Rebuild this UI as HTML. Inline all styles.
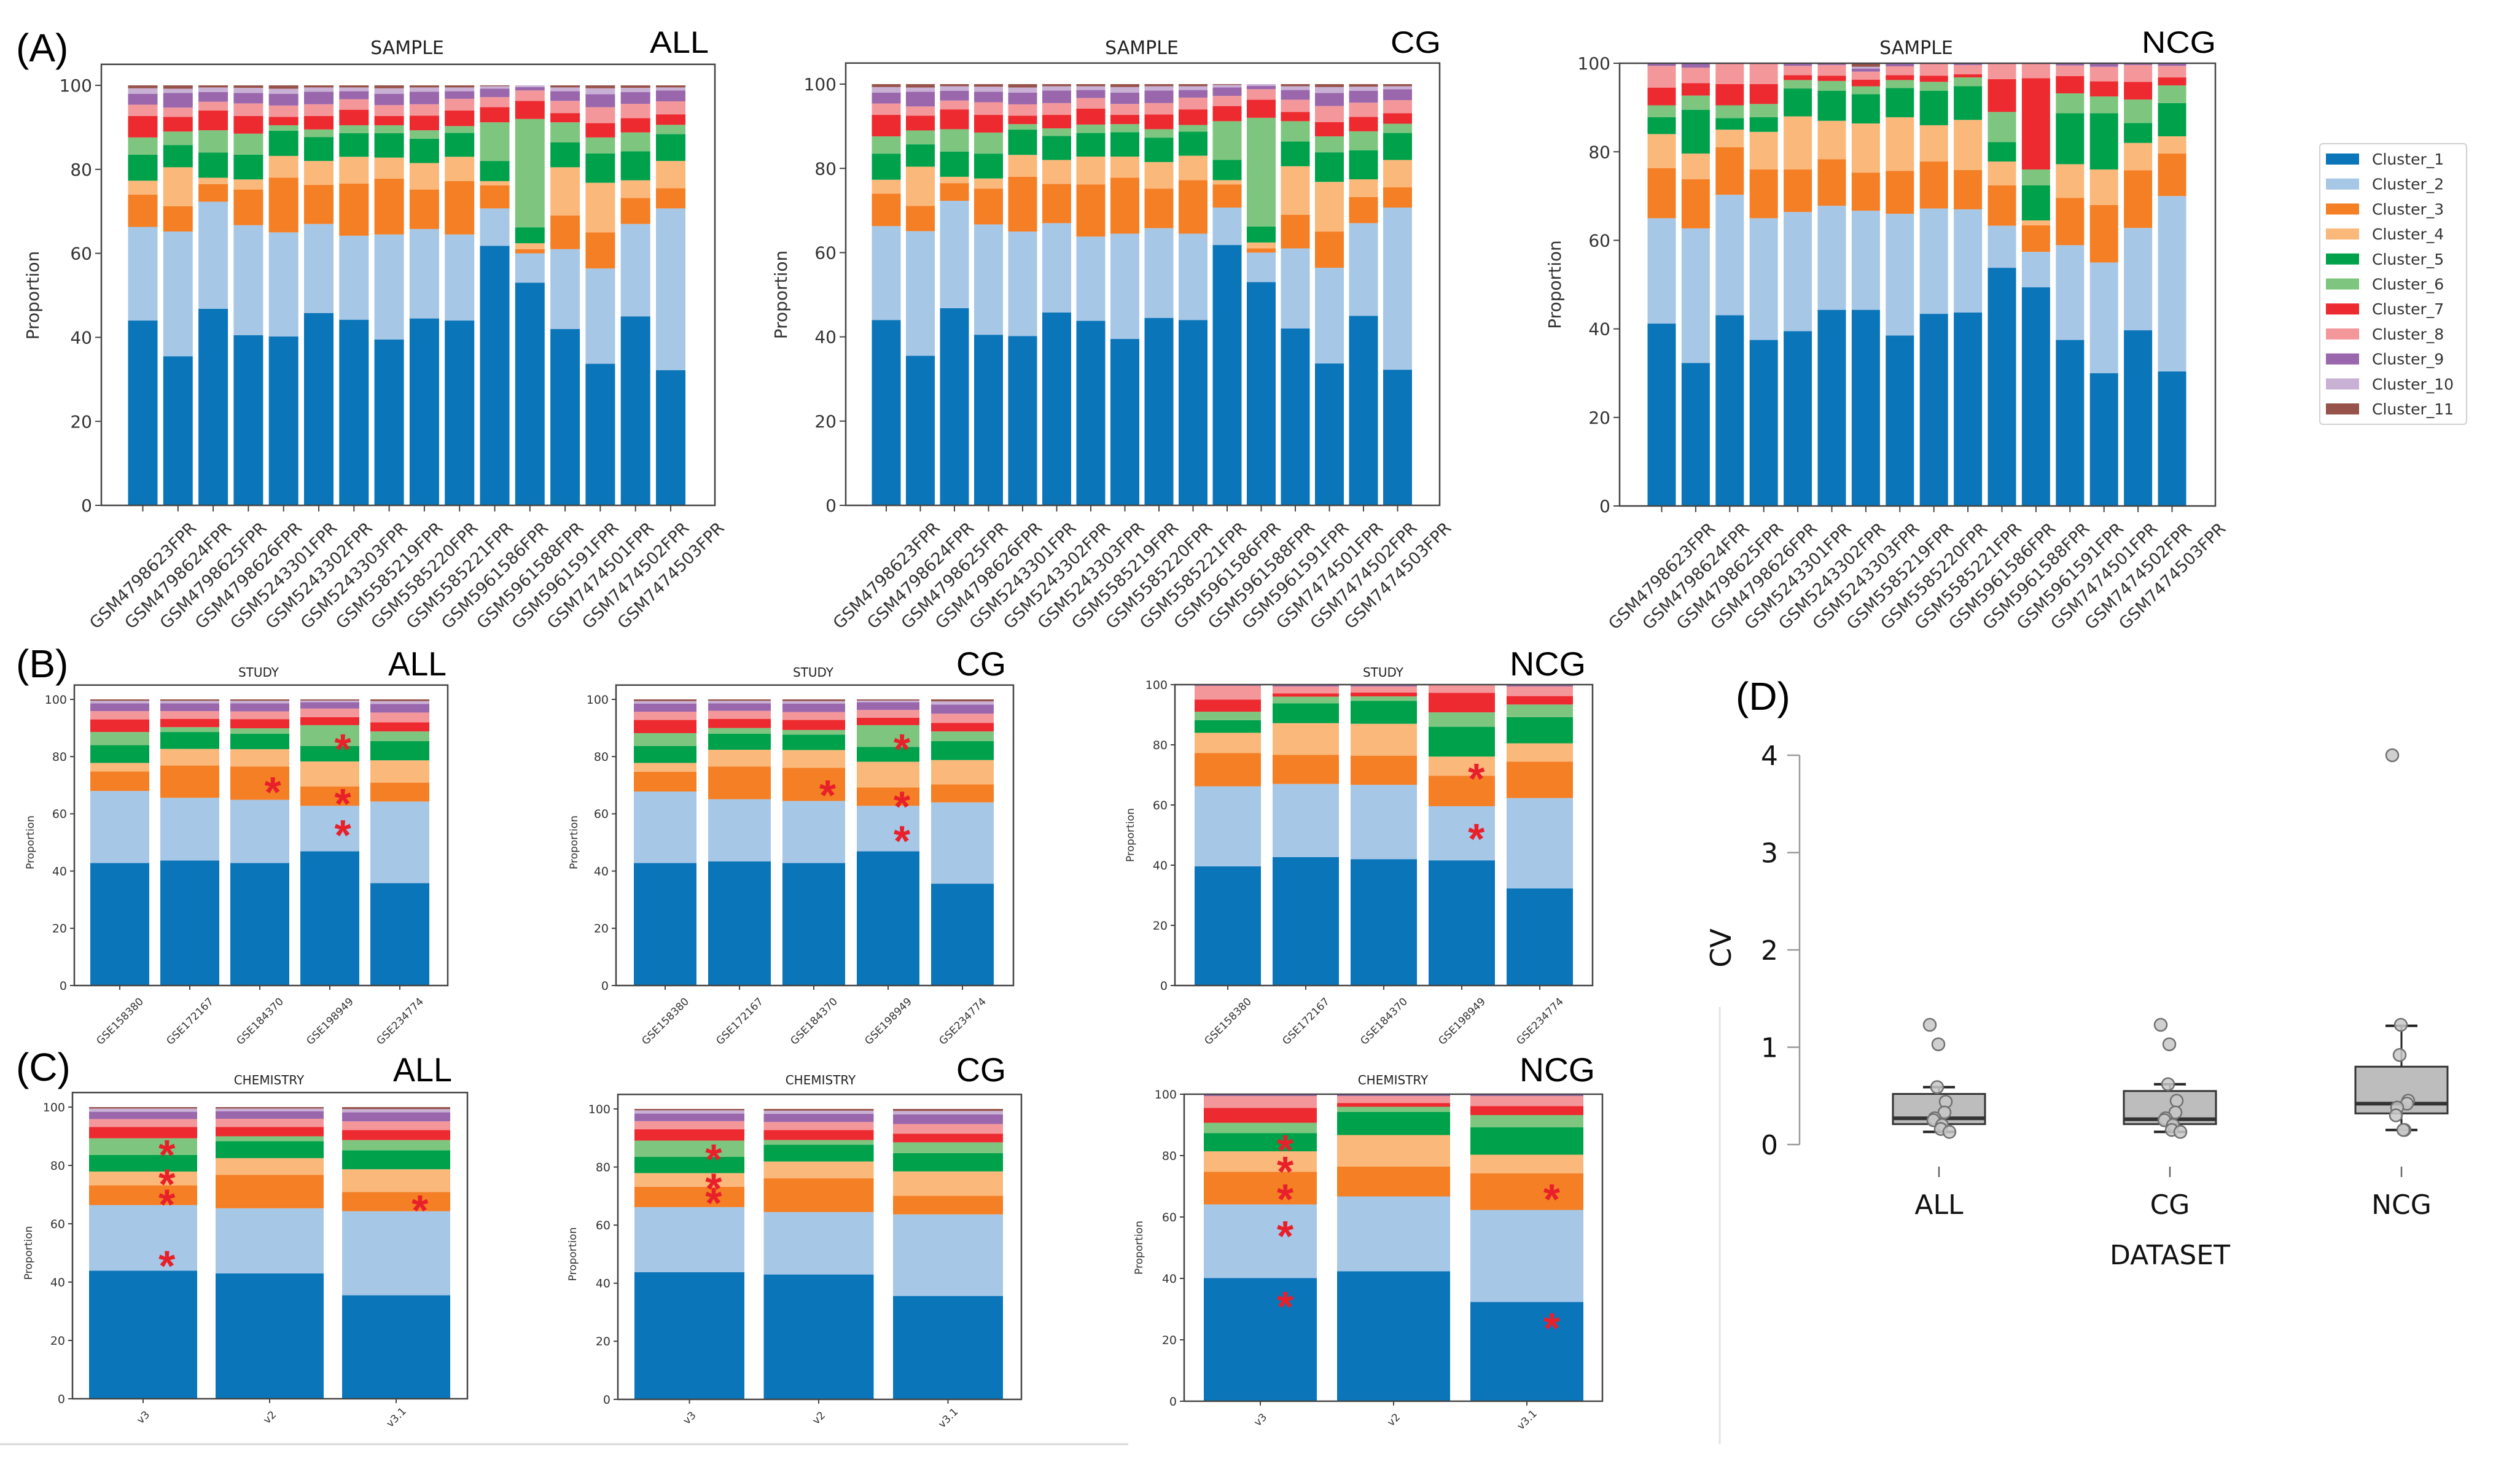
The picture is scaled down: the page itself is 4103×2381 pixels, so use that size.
<!DOCTYPE html>
<html><head><meta charset="utf-8"><style>
html,body{margin:0;padding:0;background:#fff;}
svg{display:block;}
</style></head><body>
<svg id="fig" xmlns="http://www.w3.org/2000/svg" width="4103" height="2381" viewBox="0 0 4103 2381">
<rect x="0" y="0" width="4103" height="2381" fill="#fff"/>
<line x1="0" y1="2352" x2="1837" y2="2352" stroke="#d8d8d8" stroke-width="3"/>
<line x1="2800" y1="1640" x2="2800" y2="2352" stroke="#e4e4e4" stroke-width="3"/>
<g id="legend"></g>
</svg>
<script>
const NS='http://www.w3.org/2000/svg';
const svg=document.getElementById('fig');
const colors=['#0a75b8','#a7c7e7','#f47f25','#fbb87b','#00a14b','#7ec67f','#ed2a2f','#f4979b','#9a67ad','#c9b1d6','#97534a'];
const clusterNames=['Cluster_1','Cluster_2','Cluster_3','Cluster_4','Cluster_5','Cluster_6','Cluster_7','Cluster_8','Cluster_9','Cluster_10','Cluster_11'];

const sampleLabels=['GSM4798623FPR','GSM4798624FPR','GSM4798625FPR','GSM4798626FPR','GSM5243301FPR','GSM5243302FPR','GSM5243303FPR','GSM5585219FPR','GSM5585220FPR','GSM5585221FPR','GSM5961586FPR','GSM5961588FPR','GSM5961591FPR','GSM7474501FPR','GSM7474502FPR','GSM7474503FPR'];
const studyLabels=['GSE158380','GSE172167','GSE184370','GSE198949','GSE234774'];
const chemLabels=['v3','v2','v3.1'];
const yTicks100=[0,20,40,60,80,100];

const sampleAll=[
[44,22.3,7.7,3.3,6.2,4.1,5.1,2.7,2.6,1.3,0.7],
[35.5,29.7,6,9.3,5.3,3.2,3.5,2.2,3.5,1,0.8],
[46.8,25.5,4.2,1.5,6,5.3,4.7,2.1,2.3,1.1,0.5],
[40.5,26.2,8.5,2.4,5.9,5,4.2,3,2.5,1.2,0.6],
[40.2,24.8,13,5.2,6,1.3,2,2.7,2.8,1.2,0.8],
[45.8,21.2,9.3,5.7,5.7,1.8,3.2,2.8,3,1,0.5],
[44.2,20,12.4,6.4,5.6,1.9,3.7,2.5,1.9,0.9,0.5],
[39.5,25,13.3,5,5.8,1.9,2.2,2.6,2.7,1.3,0.7],
[44.5,21.3,9.4,6.3,5.8,2,3.5,2.7,3,1,0.5],
[44,20.5,12.7,5.8,5.7,1.6,3.7,2.8,1.8,0.9,0.5],
[61.8,8.9,5.5,1,4.8,9.2,3.6,2.4,2,0.6,0.2],
[53,7,1,1.4,3.8,25.8,4.3,2.5,0.8,0.4,0],
[42,19,8,11.5,5.9,4.8,2.2,2.9,2.3,0.9,0.5],
[33.7,22.7,8.6,11.8,7,3.8,3.4,3.8,3.1,1.4,0.7],
[45,22,6.2,4.2,6.9,4.5,3.4,3.4,2.8,1,0.6],
[32.2,38.5,4.8,6.5,6.4,2.2,2.5,3.1,2.6,0.7,0.5]];
const sampleCg=[
[44,22.3,7.7,3.3,6.2,4.1,5.1,2.7,2.6,1.3,0.7],
[35.5,29.6,6,9.3,5.3,3.3,3.5,2.2,3.5,1,0.8],
[46.8,25.5,4.2,1.5,6,5.3,4.7,2.1,2.3,1.1,0.5],
[40.5,26.2,8.5,2.4,5.9,5,4.2,3,2.5,1.2,0.6],
[40.2,24.8,13,5.2,6,1.3,2,2.7,2.8,1.2,0.8],
[45.8,21.2,9.3,5.7,5.7,1.8,3.2,2.8,3,1,0.5],
[43.8,20,12.4,6.6,5.6,2,3.8,2.5,1.9,0.9,0.5],
[39.5,25,13.3,5,5.8,1.9,2.2,2.6,2.7,1.3,0.7],
[44.5,21.3,9.4,6.3,5.8,2,3.5,2.7,3,1,0.5],
[44,20.5,12.7,5.8,5.7,1.6,3.7,2.8,1.8,0.9,0.5],
[61.8,8.9,5.5,1,4.8,9.2,3.6,2.4,2,0.6,0.2],
[53,7,1,1.4,3.8,25.8,4.3,2.5,0.8,0.4,0],
[42,19,8,11.5,5.9,4.8,2.2,2.9,2.3,0.9,0.5],
[33.7,22.7,8.6,11.8,7,3.8,3.4,3.8,3.1,1.4,0.7],
[45,22,6.2,4.2,6.9,4.5,3.4,3.4,2.8,1,0.6],
[32.2,38.5,4.8,6.5,6.4,2.2,2.5,3.1,2.6,0.7,0.5]];
const sampleNcg=[
[41.2,23.8,11.3,7.7,3.8,2.7,4,4.9,0.6,0,0],
[32.3,30.4,11.1,5.8,9.9,3.2,2.8,3.5,1,0,0],
[43.1,27.2,10.7,4,2.6,2.9,4.8,4.7,0,0,0],
[37.5,27.5,11,8.5,3.3,3,4.5,4.7,0,0,0],
[39.5,26.9,9.6,12,6.3,1.9,1.1,2.1,0.6,0,0],
[44.3,23.5,10.5,8.7,6.8,2.2,1.2,2.4,0.4,0,0],
[44.3,22.4,8.6,11.1,6.6,1.8,1.5,1.8,0.7,0.4,0.8],
[38.5,27.5,9.7,12.1,6.6,1.8,1.1,2,0.7,0,0],
[43.4,23.8,10.6,8.2,7.8,2,1.4,2.8,0,0,0],
[43.7,23.3,8.9,11.3,7.6,2,0.7,2.1,0.4,0,0],
[53.8,9.5,9.1,5.4,4.4,6.8,7.4,3.6,0,0,0],
[49.4,8,6,1.1,7.9,3.6,20.6,3.4,0,0,0],
[37.5,21.4,10.7,7.6,11.5,4.5,3.9,2.4,0.5,0,0],
[30,25,13,8,12.7,3.8,3.4,3.3,0.8,0,0],
[39.7,23.1,13,6.2,4.5,5.3,4,3.8,0.4,0,0],
[30.4,39.6,9.6,3.9,7.5,4,1.8,2.6,0.6,0,0]];

const studyAll=[
[42.8,25.2,6.8,3,6.2,4.6,4.4,2.9,2.7,0.9,0.5],
[43.7,21.9,11.3,5.8,5.9,1.7,2.9,2.7,2.7,0.9,0.5],
[42.8,22.1,11.6,6.1,5.4,1.9,3.2,2.7,2.8,0.9,0.5],
[46.9,15.9,6.8,8.7,5.4,7.3,2.8,3,2.2,0.6,0.4],
[35.8,28.5,6.6,7.8,6.7,3.4,3.2,3.4,3,1,0.6]];
const studyCg=[
[42.8,25,6.9,3.1,5.9,4.5,4.6,2.9,2.8,0.9,0.6],
[43.4,21.7,11.4,5.9,5.6,2,3.2,2.8,2.6,0.9,0.5],
[42.8,21.7,11.6,6.2,5.4,1.6,3.5,2.8,2.9,0.9,0.6],
[46.9,15.9,6.4,9,5.2,7.6,2.6,2.7,2.7,0.6,0.4],
[35.6,28.4,6.3,8.5,6.6,3.4,3,3.2,3.2,1.1,0.7]];
const studyNcg=[
[39.6,26.6,11.1,6.7,4.2,2.8,4,4.6,0.4,0,0],
[42.7,24.3,9.7,10.5,6.6,2.2,1.1,2.3,0.6,0,0],
[42,24.7,9.7,10.6,7.6,1.5,1.3,2,0.6,0,0],
[41.6,18,10.1,6.4,9.9,4.8,6.5,2.7,0,0,0],
[32.3,30,12.1,6.1,8.7,4.2,2.8,3.2,0.6,0,0]];

const chemAll=[
[43.9,22.5,6.8,4.7,5.7,5.7,3.9,2.7,2.5,1.1,0.5],
[43,22.3,11.5,5.7,5.8,1.7,3.2,2.8,2.6,0.9,0.5],
[35.5,28.8,6.6,7.8,6.5,3.5,3.4,3,3.1,1.1,0.7]];
const chemCg=[
[43.8,22.4,7,4.7,5.6,5.6,3.9,2.8,2.6,1.1,0.5],
[43,21.5,11.6,5.8,5.8,1.6,3.4,2.8,2.8,1.1,0.6],
[35.6,28.1,6.4,8.4,6.3,3.7,3,3.3,3.3,1.2,0.7]];
const chemNcg=[
[40.1,24,10.6,6.7,5.9,3.4,4.8,3.9,0.6,0,0],
[42.3,24.4,9.7,10.3,7.5,1.7,1.2,2.3,0.6,0,0],
[32.3,30,11.9,6.1,8.9,4,2.9,3.3,0.6,0,0]];

// asterisks: [barIndex, value]
const starsBAll=[[2,71],[3,86],[3,67],[3,56]];
const starsBCg=[[2,70],[3,86],[3,66],[3,54]];
const starsBNcg=[[3,72],[3,52]];
const starsCAll=[[0,87],[0,77],[0,70],[0,49],[2,68]];
const starsCCg=[[0,86],[0,76],[0,71]];
const starsCNcg=[[0,85],[0,78],[0,69],[0,57],[0,34],[2,69],[2,27]];

// panel D
const cvCats=['ALL','CG','NCG'];
const cvQ1=[0.21,0.21,0.32];
const cvMed=[0.27,0.26,0.42];
const cvQ3=[0.52,0.55,0.80];
const cvLo=[0.13,0.13,0.15];
const cvHi=[0.59,0.62,1.22];
const cvPtsAll=[1.23,1.03,0.59,0.44,0.33,0.27,0.25,0.2,0.16,0.13];
const cvPtsCg=[1.23,1.03,0.62,0.45,0.33,0.27,0.25,0.2,0.15,0.13];
const cvPtsNcg=[4.0,1.23,0.92,0.45,0.42,0.38,0.3,0.15,0.15];
const cvTicks=[0,1,2,3,4];

function el(tag,attrs,parent){const e=document.createElementNS(NS,tag);for(const k in attrs)e.setAttribute(k,attrs[k]);(parent||svg).appendChild(e);return e;}
function txt(s,attrs,parent){const e=el('text',attrs,parent);e.textContent=s;return e;}

function stackChart(o){
  const g=el('g',{});
  
  
  const ymax=o.ymax;
  const y=v=>o.y0-(o.y0-o.y100)*v/100;
  const yTop=y(ymax);
  const n=o.data.length;
  const bx=i=>o.c0+i*o.step;
  // bars
  o.data.forEach((bar,i)=>{
    let acc=0;
    bar.forEach((v,k)=>{
      if(v<=0){return;}
      const r=el('rect',{x:bx(i)-o.w/2,y:y(acc+v),width:o.w,height:y(acc)-y(acc+v),fill:colors[k]},g);
      
      
      acc+=v;
    });
  });
  // frame
  const fr=el('rect',{x:o.x0,y:yTop,width:o.x1-o.x0,height:o.y0-yTop,fill:'none',stroke:'#444','stroke-width':2.5},g);
  
  
  // y ticks
  yTicks100.forEach(t=>{
    el('line',{x1:o.x0-o.tl,x2:o.x0,y1:y(t),y2:y(t),stroke:'#444','stroke-width':2},g);
    const tl=txt(String(t),{x:o.x0-o.tl-5,y:y(t)+o.tf*0.36,'text-anchor':'end','font-family':'DejaVu Sans, Liberation Sans, sans-serif','font-size':o.tf,fill:'#333'},g);
    
    
  });
  // x ticks & labels
  o.labels.forEach((s,i)=>{
    el('line',{x1:bx(i),x2:bx(i),y1:o.y0,y2:o.y0+o.tl,stroke:'#444','stroke-width':2},g);
    const cy=o.y0+o.lOff;
    const t=txt(s,{x:bx(i),y:cy+o.lf*0.35,'text-anchor':'middle','font-family':'DejaVu Sans, Liberation Sans, sans-serif','font-size':o.lf,fill:'#333',transform:`rotate(-45 ${bx(i)} ${cy})`},g);
    
    
  });
  // y label
  const yl=txt('Proportion',{x:o.ylx,y:(o.y0+o.y100)/2,'text-anchor':'middle','font-family':'DejaVu Sans, Liberation Sans, sans-serif','font-size':o.ylf,fill:'#333',transform:`rotate(-90 ${o.ylx} ${(o.y0+o.y100)/2})`},g);
  
  
  // title
  const tt=txt(o.title,{x:o.tx,y:o.ty,'text-anchor':'middle','font-family':'DejaVu Sans, Liberation Sans, sans-serif','font-size':o.ttf,fill:'#222'},g);
  
  
  const dt=txt(o.ds,{x:o.dsx,y:o.dsy,'font-family':'Liberation Sans, sans-serif','font-size':o.dsf,fill:'#000',textLength:o.dsw,lengthAdjust:'spacingAndGlyphs'},g);
  
  
  // stars
  (o.stars||[]).forEach(s=>{
    const sx=bx(s[0])+o.w*0.22, sy=y(s[1]);
    const st=txt('*',{x:sx,y:sy+40,'text-anchor':'middle','font-family':'Liberation Sans, sans-serif','font-weight':'bold','font-size':70,fill:'#e8202a'},g);
    
    
  });
}

// Panel A
stackChart({name:'sample-chart-all',data:sampleAll,labels:sampleLabels,x0:165,x1:1164,y0:823,y100:139,ymax:105,c0:232.5,step:57.3,w:48,tl:10,tf:28,lf:27,lOff:114,ylx:63,ylf:28,title:'SAMPLE',tx:663,ty:88,ttf:30,ds:'ALL',dsx:1058,dsy:86,dsf:50,dsw:96});
stackChart({name:'sample-chart-cg',data:sampleCg,labels:sampleLabels,x0:1377,x1:2344,y0:823,y100:137,ymax:105,c0:1443,step:55.5,w:47,tl:10,tf:28,lf:27,lOff:114,ylx:1281,ylf:28,title:'SAMPLE',tx:1859,ty:88,ttf:30,ds:'CG',dsx:2264,dsy:86,dsf:50,dsw:82});
stackChart({name:'sample-chart-ncg',data:sampleNcg,labels:sampleLabels,x0:2637,x1:3607,y0:824,y100:103,ymax:100,c0:2705.5,step:55.4,w:46,tl:10,tf:28,lf:27,lOff:114,ylx:2541,ylf:28,title:'SAMPLE',tx:3120,ty:88,ttf:30,ds:'NCG',dsx:3487,dsy:86,dsf:50,dsw:121});
// Panel B
stackChart({name:'study-chart-all',data:studyAll,labels:studyLabels,x0:121,x1:729,y0:1605,y100:1139,ymax:105,c0:195,step:114,w:96,tl:7,tf:19,lf:17,lOff:58,ylx:55,ylf:17,title:'STUDY',tx:421,ty:1102,ttf:20,ds:'ALL',dsx:632,dsy:1100,dsf:55,dsw:95,stars:starsBAll});
stackChart({name:'study-chart-cg',data:studyCg,labels:studyLabels,x0:1003,x1:1650,y0:1605,y100:1139,ymax:105,c0:1083,step:121,w:102,tl:7,tf:19,lf:17,lOff:58,ylx:940,ylf:17,title:'STUDY',tx:1324,ty:1102,ttf:20,ds:'CG',dsx:1557,dsy:1100,dsf:55,dsw:81,stars:starsBCg});
stackChart({name:'study-chart-ncg',data:studyNcg,labels:studyLabels,x0:1913,x1:2593,y0:1605,y100:1115,ymax:100,c0:1999,step:127,w:108,tl:7,tf:19,lf:17,lOff:58,ylx:1846,ylf:17,title:'STUDY',tx:2252,ty:1102,ttf:20,ds:'NCG',dsx:2458,dsy:1100,dsf:55,dsw:124,stars:starsBNcg});
// Panel C
stackChart({name:'chemistry-chart-all',data:chemAll,labels:chemLabels,x0:118,x1:761,y0:2278,y100:1803,ymax:105,c0:233,step:206,w:176,tl:7,tf:19,lf:17,lOff:30,ylx:52,ylf:17,title:'CHEMISTRY',tx:438,ty:1766,ttf:20,ds:'ALL',dsx:640,dsy:1761,dsf:55,dsw:96,stars:starsCAll});
stackChart({name:'chemistry-chart-cg',data:chemCg,labels:chemLabels,x0:1006,x1:1663,y0:2279,y100:1806,ymax:105,c0:1122.5,step:210.5,w:179,tl:7,tf:19,lf:17,lOff:30,ylx:938,ylf:17,title:'CHEMISTRY',tx:1336,ty:1766,ttf:20,ds:'CG',dsx:1557,dsy:1761,dsf:55,dsw:81,stars:starsCCg});
stackChart({name:'chemistry-chart-ncg',data:chemNcg,labels:chemLabels,x0:1928,x1:2609,y0:2282,y100:1782,ymax:100,c0:2052,step:217,w:184,tl:7,tf:19,lf:17,lOff:30,ylx:1860,ylf:17,title:'CHEMISTRY',tx:2268,ty:1766,ttf:20,ds:'NCG',dsx:2474,dsy:1761,dsf:55,dsw:123,stars:starsCNcg});

// Panel labels
[['(A)',26,100],['(B)',26,1103],['(C)',26,1760],['(D)',2826,1156]].forEach(p=>{
  const t=txt(p[0],{x:p[1],y:p[2],'font-family':'Liberation Sans, sans-serif','font-size':64,fill:'#000'});
  
  
});

// Legend
(function(){
  const lg=document.getElementById('legend');
  const b=el('rect',{x:3777,y:234,width:239,height:457,rx:5,fill:'#fff',stroke:'#d0d0d0','stroke-width':2},lg);
  
  
  clusterNames.forEach((nm,i)=>{
    const cy=259+i*40.7;
    const r=el('rect',{x:3787,y:cy-9,width:54,height:18,fill:colors[i]},lg);
    
    
    const t=txt(nm,{x:3862,y:cy+9,'font-family':'DejaVu Sans, Liberation Sans, sans-serif','font-size':25,fill:'#333'},lg);
    
    
  });
})();

// Panel D
(function(){
  const g=el('g',{});
  
  
  const y0=1864,y4=1230;
  const y=v=>y0-(y0-y4)*v/4;
  const cx=[3157,3533,3910];
  const pts=[cvPtsAll,cvPtsCg,cvPtsNcg];
  el('line',{x1:2930,x2:2930,y1:y(4),y2:y(0),stroke:'#999','stroke-width':2.5},g);
  cvTicks.forEach(t=>{
    el('line',{x1:2910,x2:2930,y1:y(t),y2:y(t),stroke:'#999','stroke-width':2.5},g);
    const tl=txt(String(t),{x:2895,y:y(t)+16,'text-anchor':'end','font-family':'DejaVu Sans, Liberation Sans, sans-serif','font-size':44,fill:'#111'},g);
    
    
  });
  const cv=txt('CV',{x:2818,y:1544,'text-anchor':'middle','font-family':'DejaVu Sans, Liberation Sans, sans-serif','font-size':46,fill:'#111',transform:'rotate(-90 2818 1544)'},g);
  
  
  cvCats.forEach((c,i)=>{
    const x=cx[i];
    el('line',{x1:x,x2:x,y1:1900,y2:1917,stroke:'#666','stroke-width':2.5},g);
    const cl=txt(c,{x:x,y:1977,'text-anchor':'middle','font-family':'DejaVu Sans, Liberation Sans, sans-serif','font-size':44,fill:'#111'},g);
    
    
    // whiskers
    el('line',{x1:x,x2:x,y1:y(cvHi[i]),y2:y(cvQ3[i]),stroke:'#222','stroke-width':3},g);
    el('line',{x1:x,x2:x,y1:y(cvQ1[i]),y2:y(cvLo[i]),stroke:'#222','stroke-width':3},g);
    const cap1=el('line',{x1:x-26,x2:x+26,y1:y(cvHi[i]),y2:y(cvHi[i]),stroke:'#222','stroke-width':4},g);
    
    
    const cap2=el('line',{x1:x-26,x2:x+26,y1:y(cvLo[i]),y2:y(cvLo[i]),stroke:'#222','stroke-width':4},g);
    
    
    const bx=el('rect',{x:x-75,y:y(cvQ3[i]),width:150,height:y(cvQ1[i])-y(cvQ3[i]),fill:'#bdbdbd',stroke:'#333','stroke-width':3},g);
    
    
    const md=el('line',{x1:x-75,x2:x+75,y1:y(cvMed[i]),y2:y(cvMed[i]),stroke:'#333','stroke-width':6},g);
    
    
    pts[i].forEach((v,j)=>{
      const jit=((j%5)-2)*6+(j%2?5:-3);
      const p=el('circle',{cx:x+jit,cy:y(v),r:10,fill:'rgba(200,200,200,0.85)',stroke:'#707070','stroke-width':2.5},g);
      
      
    });
  });
  const dl=txt('DATASET',{x:3533,y:2059,'text-anchor':'middle','font-family':'DejaVu Sans, Liberation Sans, sans-serif','font-size':44,fill:'#111'},g);
  
  
})();
</script>
</body></html>
